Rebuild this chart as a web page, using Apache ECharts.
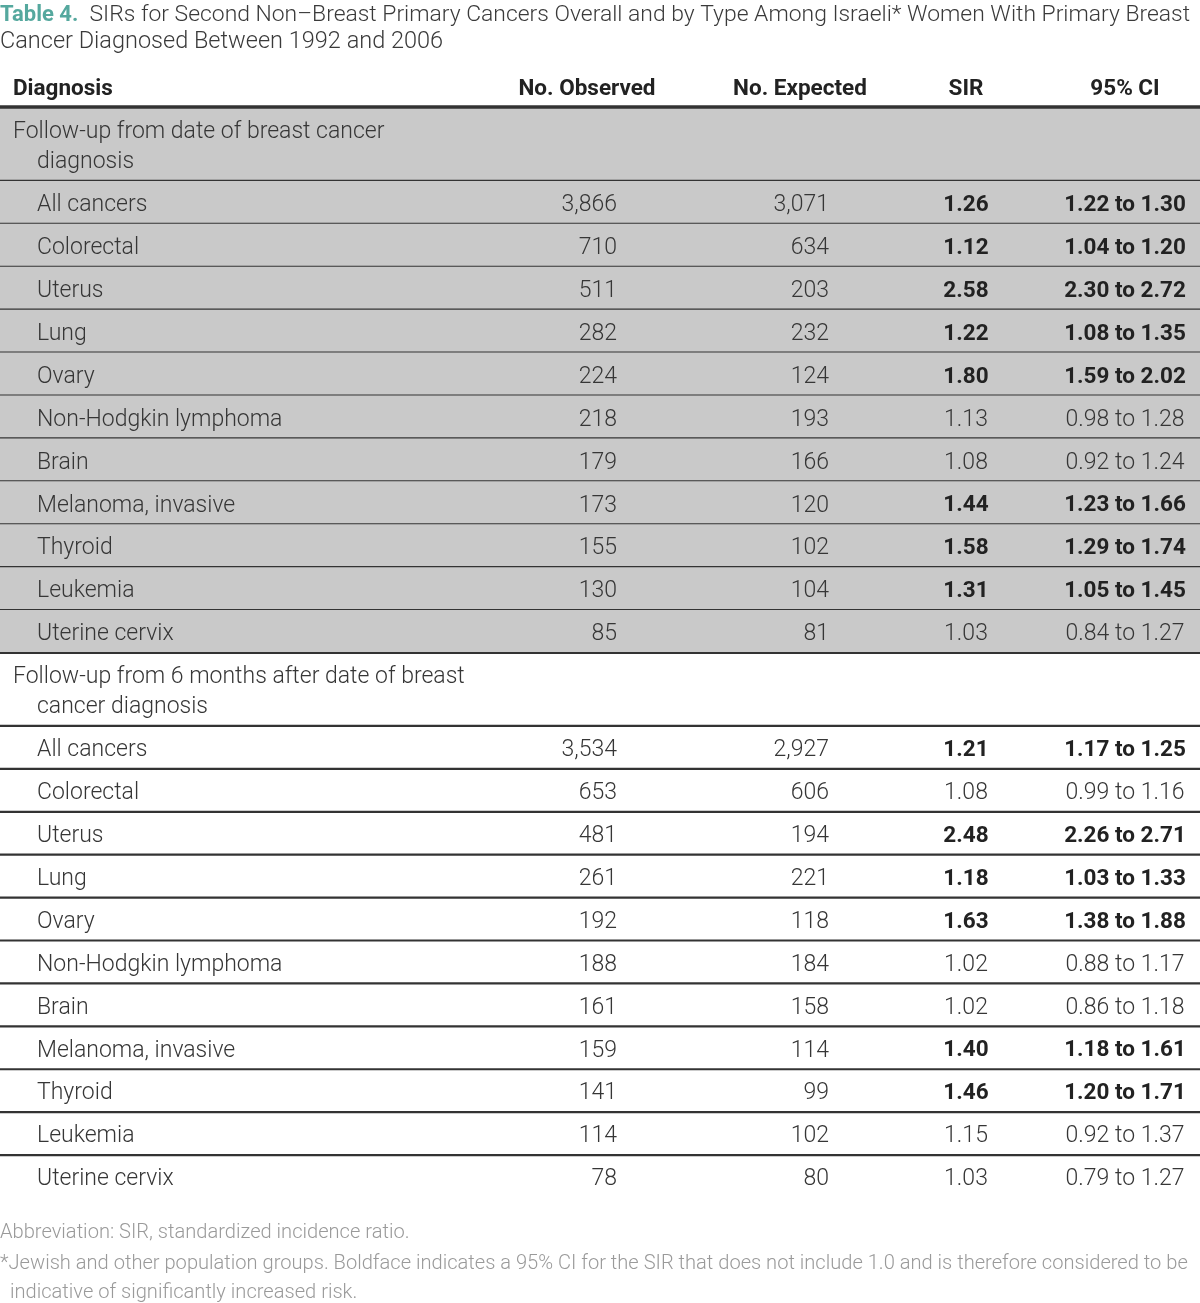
<!DOCTYPE html>
<html><head><meta charset="utf-8">
<script src="https://cdn.jsdelivr.net/npm/echarts@6/dist/echarts.min.js"></script>
<style>html,body{margin:0;padding:0;background:#fff}#c{width:1200px;height:1303px}</style>
</head><body><div id="c"></div>
<script>
// ---- data ----
const titleLabel = 'Table 4.';
const titleLine1 = 'SIRs for Second Non\u2013Breast Primary Cancers Overall and by Type Among Israeli* Women With Primary Breast';
const titleLine2 = 'Cancer Diagnosed Between 1992 and 2006';
const columnHeaders = ['Diagnosis', 'No. Observed', 'No. Expected', 'SIR', '95% CI'];
const sectionLabels = [
  ['Follow-up from date of breast cancer', 'diagnosis'],
  ['Follow-up from 6 months after date of breast', 'cancer diagnosis']
];
const diagnoses = ['All cancers','Colorectal','Uterus','Lung','Ovary','Non-Hodgkin lymphoma','Brain','Melanoma, invasive','Thyroid','Leukemia','Uterine cervix'];
const observed1 = [3866,710,511,282,224,218,179,173,155,130,85];
const expected1 = [3071,634,203,232,124,193,166,120,102,104,81];
const sir1      = [1.26,1.12,2.58,1.22,1.80,1.13,1.08,1.44,1.58,1.31,1.03];
const ciLow1    = [1.22,1.04,2.30,1.08,1.59,0.98,0.92,1.23,1.29,1.05,0.84];
const ciHigh1   = [1.30,1.20,2.72,1.35,2.02,1.28,1.24,1.66,1.74,1.45,1.27];
const observed2 = [3534,653,481,261,192,188,161,159,141,114,78];
const expected2 = [2927,606,194,221,118,184,158,114,99,102,80];
const sir2      = [1.21,1.08,2.48,1.18,1.63,1.02,1.02,1.40,1.46,1.15,1.03];
const ciLow2    = [1.17,0.99,2.26,1.03,1.38,0.88,0.86,1.18,1.20,0.92,0.79];
const ciHigh2   = [1.25,1.16,2.71,1.33,1.88,1.17,1.18,1.61,1.71,1.37,1.27];
const footnote1 = 'Abbreviation: SIR, standardized incidence ratio.';
const footnote2 = '*Jewish and other population groups. Boldface indicates a 95% CI for the SIR that does not include 1.0 and is therefore considered to be';
const footnote3 = 'indicative of significantly increased risk.';

// ---- layout / style ----
const FONT = 'Roboto, "Liberation Sans", sans-serif';
const FS = 23;
const TXT = '#363636';
const BOLDTXT = '#222';
const GRAY = '#c9c9c9';
const LINE = '#333';
const DY = 3;
const colX = {diag: 37, sec: 13, obsR: 617, expR: 829, sirC: 966, ciC: 1125};
const hdrX = [13, 587, 800, 966, 1125];
const hdrAlign = ['left','center','center','center','center'];
const SECTION_UNITS = 1.7;

const sections = [
  {label: sectionLabels[0], obs: observed1, exp: expected1, sir: sir1, lo: ciLow1, hi: ciHigh1},
  {label: sectionLabels[1], obs: observed2, exp: expected2, sir: sir2, lo: ciLow2, hi: ciHigh2}
];
const rows = [];
let u = 0;
sections.forEach((s, si) => {
  rows.push({kind: 'section', si, label: s.label, start: u, end: u + SECTION_UNITS});
  u += SECTION_UNITS;
  diagnoses.forEach((d, i) => {
    rows.push({kind: 'item', si, name: d, obs: s.obs[i], exp: s.exp[i], sir: s.sir[i], lo: s.lo[i], hi: s.hi[i], start: u, end: u + 1});
    u += 1;
  });
});
const totalUnits = u;
const fmtInt = v => v.toLocaleString('en-US');
const fmt2 = v => v.toFixed(2);

function txt(x, y, text, align, bold, color) {
  const fs = bold ? 22.5 : FS;
  return {type: 'text', x: x, y: y, style: {text: text, x: 0, y: 0, align: align, verticalAlign: 'middle',
    font: (bold ? '700 ' : '300 ') + fs + 'px ' + FONT, fill: color || (bold ? BOLDTXT : TXT)}};
}

function renderItem(params, api) {
  const idx = api.value(2);
  const r = rows[idx];
  const y0 = api.coord([0, api.value(0)])[1];
  const y1 = api.coord([0, api.value(1)])[1];
  const xL = api.coord([0, 0])[0], xR = api.coord([1200, 0])[0];
  const children = [];
  if (r.si === 0) children.push({type: 'rect', shape: {x: xL, y: y0, width: xR - xL, height: y1 - y0}, style: {fill: GRAY}});
  if (idx === 0) children.push({type: 'line', shape: {x1: xL, y1: y0 - 1, x2: xR, y2: y0 - 1}, style: {stroke: LINE, lineWidth: 3.5}});
  if (idx < rows.length - 1) children.push({type: 'line', shape: {x1: xL, y1: y1, x2: xR, y2: y1}, style: {stroke: LINE, lineWidth: 2.2}});
  const ym = (y0 + y1) / 2 + DY;
  if (r.kind === 'section') {
    children.push(txt(api.coord([colX.sec, 0])[0], ym - 15, r.label[0], 'left', false));
    children.push(txt(api.coord([colX.diag, 0])[0], ym + 15, r.label[1], 'left', false));
  } else {
    const bold = r.lo > 1.0;
    children.push(txt(api.coord([colX.diag, 0])[0], ym, r.name, 'left', false));
    children.push(txt(api.coord([colX.obsR, 0])[0], ym, fmtInt(r.obs), 'right', false));
    children.push(txt(api.coord([colX.expR, 0])[0], ym, fmtInt(r.exp), 'right', false));
    children.push(txt(api.coord([colX.sirC, 0])[0], ym, fmt2(r.sir), 'center', bold));
    children.push(txt(api.coord([colX.ciC, 0])[0], ym, fmt2(r.lo) + ' to ' + fmt2(r.hi), 'center', bold));
  }
  return {type: 'group', children: children};
}

const chart = echarts.init(document.getElementById('c'), null, {renderer: 'canvas'});
const graphics = [
  {type: 'text', x: 0, y: 15, style: {
    text: '{a|' + titleLabel + '}  ' + titleLine1, verticalAlign: 'middle',
    font: '300 22.9px ' + FONT, fill: '#3a3a3a',
    rich: {a: {font: '700 22px ' + FONT, fill: '#55a89e'}}}},
  {type: 'text', x: 0, y: 42, style: {text: titleLine2, verticalAlign: 'middle', font: '300 23.5px ' + FONT, fill: '#3a3a3a'}}
];
columnHeaders.forEach((h, i) => {
  graphics.push({type: 'text', x: hdrX[i], y: 89, style: {text: h, align: hdrAlign[i], verticalAlign: 'middle',
    font: '700 22.5px ' + FONT, fill: BOLDTXT}});
});
[[footnote1, 0, 1233], [footnote2, 0, 1264], [footnote3, 10, 1293]].forEach(f => {
  graphics.push({type: 'text', x: f[1], y: f[2], style: {text: f[0], verticalAlign: 'middle',
    font: '300 20.1px ' + FONT, fill: '#9a9a9a'}});
});

chart.setOption({
  animation: false,
  grid: {left: 0, right: 0, top: 108, height: 1090},
  xAxis: {type: 'value', min: 0, max: 1200, show: false},
  yAxis: {type: 'value', min: 0, max: totalUnits, inverse: true, show: false},
  graphic: graphics,
  series: [{
    type: 'custom',
    renderItem: renderItem,
    encode: {x: -1, y: [0, 1]},
    data: rows.map((r, i) => [r.start, r.end, i])
  }]
});
</script>
</body></html>
